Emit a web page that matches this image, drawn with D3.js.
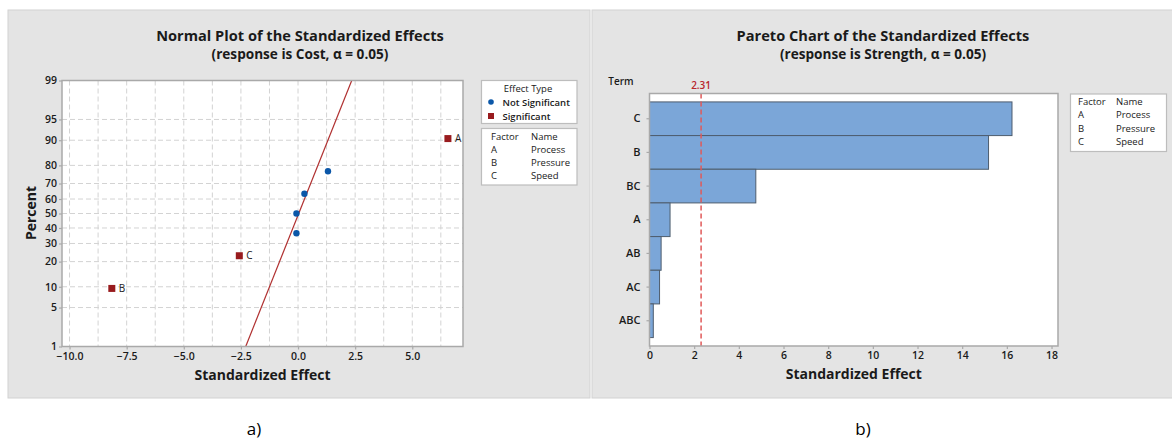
<!DOCTYPE html>
<html>
<head>
<meta charset="utf-8">
<script src="https://cdn.jsdelivr.net/npm/d3@7"></script>
<style>
  body { margin: 0; background: #ffffff; }
  svg text { font-family: "Open Sans", "Noto Sans", sans-serif; fill: #1a1a1a; }
</style>
</head>
<body>
<svg id="chart" width="1172" height="439"></svg>
<script>
// ---- Normal plot of standardized effects (response: Cost) ----
const normalTerms = ["B", "C", "ABC", "AC", "AB", "BC", "A"];
const normalEffects = [-8.15, -2.57, -0.07, -0.07, 0.28, 1.31, 6.56];
const normalPercents = [9.5, 23, 36.5, 50, 63.5, 77, 90.5];
const normalSignificant = [true, true, false, false, false, false, true];
const fitLinePercents = [1, 99];
const fitLineEffects = [-2.29, 2.35];
const percentTicks = [1, 5, 10, 20, 30, 40, 50, 60, 70, 80, 90, 95, 99];
const effectTicks = [-10, -7.5, -5, -2.5, 0, 2.5, 5];

// ---- Pareto chart of standardized effects (response: Strength) ----
const paretoTerms = ["C", "B", "BC", "A", "AB", "AC", "ABC"];
const paretoEffects = [16.23, 15.18, 4.76, 0.92, 0.52, 0.45, 0.17];
const paretoCritical = 2.31;
const paretoTicks = [0, 2, 4, 6, 8, 10, 12, 14, 16, 18];

// ---- Factor key ----
const factorLetters = ["A", "B", "C"];
const factorNames = ["Process", "Pressure", "Speed"];

// Inverse standard normal CDF (Acklam's rational approximation)
function probit(p) {
  const a = [-3.969683028665376e+01, 2.209460984245205e+02, -2.759285104469687e+02,
             1.383577518672690e+02, -3.066479806614716e+01, 2.506628277459239e+00];
  const b = [-5.447609879822406e+01, 1.615858368580409e+02, -1.556989798598866e+02,
             6.680131188771972e+01, -1.328068155288572e+01];
  const c = [-7.784894002430293e-03, -3.223964580411365e-01, -2.400758277161838e+00,
             -2.549732539343734e+00, 4.374664141464968e+00, 2.938163982698783e+00];
  const d = [7.784695709041462e-03, 3.224671290700398e-01, 2.445134137142996e+00,
             3.754408661907416e+00];
  const pl = 0.02425, ph = 1 - pl;
  let q, r;
  if (p < pl) {
    q = Math.sqrt(-2 * Math.log(p));
    return (((((c[0]*q+c[1])*q+c[2])*q+c[3])*q+c[4])*q+c[5]) /
           ((((d[0]*q+d[1])*q+d[2])*q+d[3])*q+1);
  }
  if (p <= ph) {
    q = p - 0.5; r = q * q;
    return (((((a[0]*r+a[1])*r+a[2])*r+a[3])*r+a[4])*r+a[5])*q /
           (((((b[0]*r+b[1])*r+b[2])*r+b[3])*r+b[4])*r+1);
  }
  q = Math.sqrt(-2 * Math.log(1 - p));
  return -(((((c[0]*q+c[1])*q+c[2])*q+c[3])*q+c[4])*q+c[5]) /
          ((((d[0]*q+d[1])*q+d[2])*q+d[3])*q+1);
}

const svg = d3.select("#chart");
const panelFill = "#e4e4e4";
const frameStroke = "#a9a9a9";
const gridStroke = "#d3d3d3";
const sigRed = "#981b1e";
const nsBlue = "#0b57a8";

// Panels
svg.append("rect").attr("x", 8).attr("y", 10).attr("width", 582).attr("height", 388)
  .attr("fill", panelFill).attr("stroke", "#d2d2d2");
svg.append("rect").attr("x", 592).attr("y", 10).attr("width", 582).attr("height", 388)
  .attr("fill", panelFill).attr("stroke", "#d2d2d2");

function titles(cx, main, sub) {
  svg.append("text").attr("x", cx).attr("y", 41).attr("text-anchor", "middle")
    .attr("font-size", 14.6).attr("font-weight", 700).text(main);
  svg.append("text").attr("x", cx).attr("y", 59).attr("text-anchor", "middle")
    .attr("font-size", 13.6).attr("font-weight", 700).text(sub);
}
titles(300, "Normal Plot of the Standardized Effects", "(response is Cost, \u03B1 = 0.05)");
titles(883, "Pareto Chart of the Standardized Effects", "(response is Strength, \u03B1 = 0.05)");

// ================= Normal plot =================
const L = { left: 62, right: 463, top: 80.5, bottom: 346.5 };
const zMax = probit(0.99);
const xN = d3.scaleLinear().domain([-10.33, 7.22]).range([L.left, L.right]);
const zN = d3.scaleLinear().domain([-zMax, zMax]).range([L.bottom, L.top]);
const yN = p => zN(probit(p / 100));

const gN = svg.append("g");
gN.append("rect").attr("x", L.left).attr("y", L.top)
  .attr("width", L.right - L.left).attr("height", L.bottom - L.top).attr("fill", "#ffffff");

// grid
const vGrid = d3.range(-10, 7.22, 1.25);
gN.selectAll(".vg").data(vGrid).join("line")
  .attr("x1", d => xN(d)).attr("x2", d => xN(d))
  .attr("y1", L.top).attr("y2", L.bottom)
  .attr("stroke", gridStroke).attr("stroke-dasharray", "5,3");
gN.selectAll(".hg").data(percentTicks.filter(p => p > 1 && p < 99)).join("line")
  .attr("x1", L.left).attr("x2", L.right)
  .attr("y1", d => yN(d)).attr("y2", d => yN(d))
  .attr("stroke", gridStroke).attr("stroke-dasharray", "5,3");

// fitted line, clipped to the plot area
gN.append("clipPath").attr("id", "clipN").append("rect")
  .attr("x", L.left).attr("y", L.top).attr("width", L.right - L.left).attr("height", L.bottom - L.top);
gN.append("line").attr("clip-path", "url(#clipN)")
  .attr("x1", xN(fitLineEffects[0])).attr("y1", yN(fitLinePercents[0]))
  .attr("x2", xN(fitLineEffects[1])).attr("y2", yN(fitLinePercents[1]))
  .attr("stroke", "#b03030").attr("stroke-width", 1.2);

// frame
gN.append("rect").attr("x", L.left).attr("y", L.top)
  .attr("width", L.right - L.left).attr("height", L.bottom - L.top)
  .attr("fill", "none").attr("stroke", frameStroke).attr("stroke-width", 1.5);

// axes
const axNx = d3.axisBottom(xN).tickValues(effectTicks).tickFormat(d3.format(".1f")).tickSize(3).tickPadding(3);
const axNy = d3.axisLeft(zN).tickValues(percentTicks.map(p => probit(p / 100)))
  .tickFormat((d, i) => percentTicks[i]).tickSize(3).tickPadding(2);
function styleAxis(g) {
  g.select(".domain").remove();
  g.selectAll(".tick line").attr("stroke", frameStroke).attr("stroke-width", 1.2);
  g.selectAll(".tick text").attr("fill", "#333").attr("font-size", 10.5)
    .attr("font-weight", 600).style("font-family", "\"Open Sans\", sans-serif");
}
gN.append("g").attr("transform", `translate(0,${L.bottom})`).call(axNx).call(styleAxis);
gN.append("g").attr("transform", `translate(${L.left},0)`).call(axNy).call(styleAxis);

// axis titles
svg.append("text").attr("x", (L.left + L.right) / 2).attr("y", 380).attr("text-anchor", "middle")
  .attr("font-size", 14).attr("font-weight", 700).text("Standardized Effect");
svg.append("text").attr("transform", `translate(36,213) rotate(-90)`).attr("text-anchor", "middle")
  .attr("font-size", 14).attr("font-weight", 700).text("Percent");

// points
const normalPts = normalTerms.map((t, i) => ({
  term: t, effect: normalEffects[i], pct: normalPercents[i], sig: normalSignificant[i]
}));
gN.selectAll(".ns").data(normalPts.filter(d => !d.sig)).join("circle")
  .attr("cx", d => xN(d.effect)).attr("cy", d => yN(d.pct)).attr("r", 3.2).attr("fill", nsBlue);
const sig = normalPts.filter(d => d.sig);
gN.selectAll(".sq").data(sig).join("rect")
  .attr("x", d => xN(d.effect) - 3.5).attr("y", d => yN(d.pct) - 3.5)
  .attr("width", 7).attr("height", 7).attr("fill", sigRed);
gN.selectAll(".sl").data(sig).join("text")
  .attr("x", d => xN(d.effect) + 7).attr("y", d => yN(d.pct) + 3.5)
  .attr("font-size", 10).attr("fill", "#333").text(d => d.term);

// legends
function factorKey(x0, y0, w, h, colX, colName) {
  svg.append("rect").attr("x", x0).attr("y", y0).attr("width", w).attr("height", h)
    .attr("fill", "#ffffff").attr("stroke", "#bdbdbd").attr("stroke-width", 1.2);
  const rows = [["Factor", "Name"]].concat(factorLetters.map((f, i) => [f, factorNames[i]]));
  rows.forEach((r, i) => {
    const y = y0 + 11 + i * 13.3;
    svg.append("text").attr("x", colX).attr("y", y).attr("font-size", 9.5).text(r[0]);
    svg.append("text").attr("x", colName).attr("y", y).attr("font-size", 9.5).text(r[1]);
  });
}
// effect type key
svg.append("rect").attr("x", 481.5).attr("y", 80.5).attr("width", 95.5).attr("height", 43)
  .attr("fill", "#ffffff").attr("stroke", "#bdbdbd").attr("stroke-width", 1.2);
svg.append("text").attr("x", 528).attr("y", 92).attr("text-anchor", "middle")
  .attr("font-size", 9.5).text("Effect Type");
svg.append("circle").attr("cx", 491).attr("cy", 102).attr("r", 2.8).attr("fill", nsBlue);
svg.append("text").attr("x", 502.5).attr("y", 105.5).attr("font-size", 9.5).attr("font-weight", 600).text("Not Significant");
svg.append("rect").attr("x", 488).attr("y", 113).attr("width", 6).attr("height", 6).attr("fill", sigRed);
svg.append("text").attr("x", 502.5).attr("y", 119.5).attr("font-size", 9.5).attr("font-weight", 600).text("Significant");
factorKey(481.5, 128.5, 95.5, 56.5, 491, 531);

// ================= Pareto chart =================
const R = { left: 649.5, right: 1058, top: 93.5, bottom: 346 };
const xP = d3.scaleLinear().domain([0, 18.29]).range([R.left, R.right]);
const yP = d3.scaleBand().domain(paretoTerms).range([R.top, R.bottom]).paddingInner(0).paddingOuter(0.25);

const gP = svg.append("g");
gP.append("rect").attr("x", R.left).attr("y", R.top)
  .attr("width", R.right - R.left).attr("height", R.bottom - R.top).attr("fill", "#ffffff");

const bars = paretoTerms.map((t, i) => ({ term: t, effect: paretoEffects[i] }));
gP.selectAll(".bar").data(bars).join("rect")
  .attr("x", xP(0)).attr("y", d => yP(d.term))
  .attr("width", d => xP(d.effect) - xP(0)).attr("height", yP.bandwidth())
  .attr("fill", "#7ba6d8").attr("stroke", "#4e5d6e").attr("stroke-width", 1);

gP.append("line")
  .attr("x1", xP(paretoCritical)).attr("x2", xP(paretoCritical))
  .attr("y1", R.top).attr("y2", R.bottom)
  .attr("stroke", "#e05a5a").attr("stroke-width", 1.5).attr("stroke-dasharray", "5,3");
svg.append("text").attr("x", xP(paretoCritical)).attr("y", 88.5).attr("text-anchor", "middle")
  .attr("font-size", 10).attr("font-weight", 600).style("fill", "#b8262b").text(paretoCritical.toFixed(2));

gP.append("rect").attr("x", R.left).attr("y", R.top)
  .attr("width", R.right - R.left).attr("height", R.bottom - R.top)
  .attr("fill", "none").attr("stroke", frameStroke).attr("stroke-width", 1.5);

const axPx = d3.axisBottom(xP).tickValues(paretoTicks).tickSize(3).tickPadding(3);
const axPy = d3.axisLeft(yP).tickSize(3).tickPadding(6);
gP.append("g").attr("transform", `translate(0,${R.bottom})`).call(axPx).call(styleAxis);
gP.append("g").attr("transform", `translate(${R.left},0)`).call(axPy).call(styleAxis);
gP.selectAll("g .tick text").filter(function () { return paretoTerms.includes(this.textContent); })
  .attr("font-size", 11).attr("fill", "#222");

svg.append("text").attr("x", 621).attr("y", 85).attr("text-anchor", "middle")
  .attr("font-size", 10).attr("font-weight", 600).text("Term");
svg.append("text").attr("x", (R.left + R.right) / 2).attr("y", 379).attr("text-anchor", "middle")
  .attr("font-size", 14).attr("font-weight", 700).text("Standardized Effect");

factorKey(1070.5, 94, 96, 57.5, 1078, 1116);

// sub-figure captions
svg.append("text").attr("x", 254).attr("y", 435).attr("text-anchor", "middle")
  .attr("font-size", 17).style("fill", "#000").text("a)");
svg.append("text").attr("x", 863).attr("y", 435).attr("text-anchor", "middle")
  .attr("font-size", 17).style("fill", "#000").text("b)");
</script>
</body>
</html>
